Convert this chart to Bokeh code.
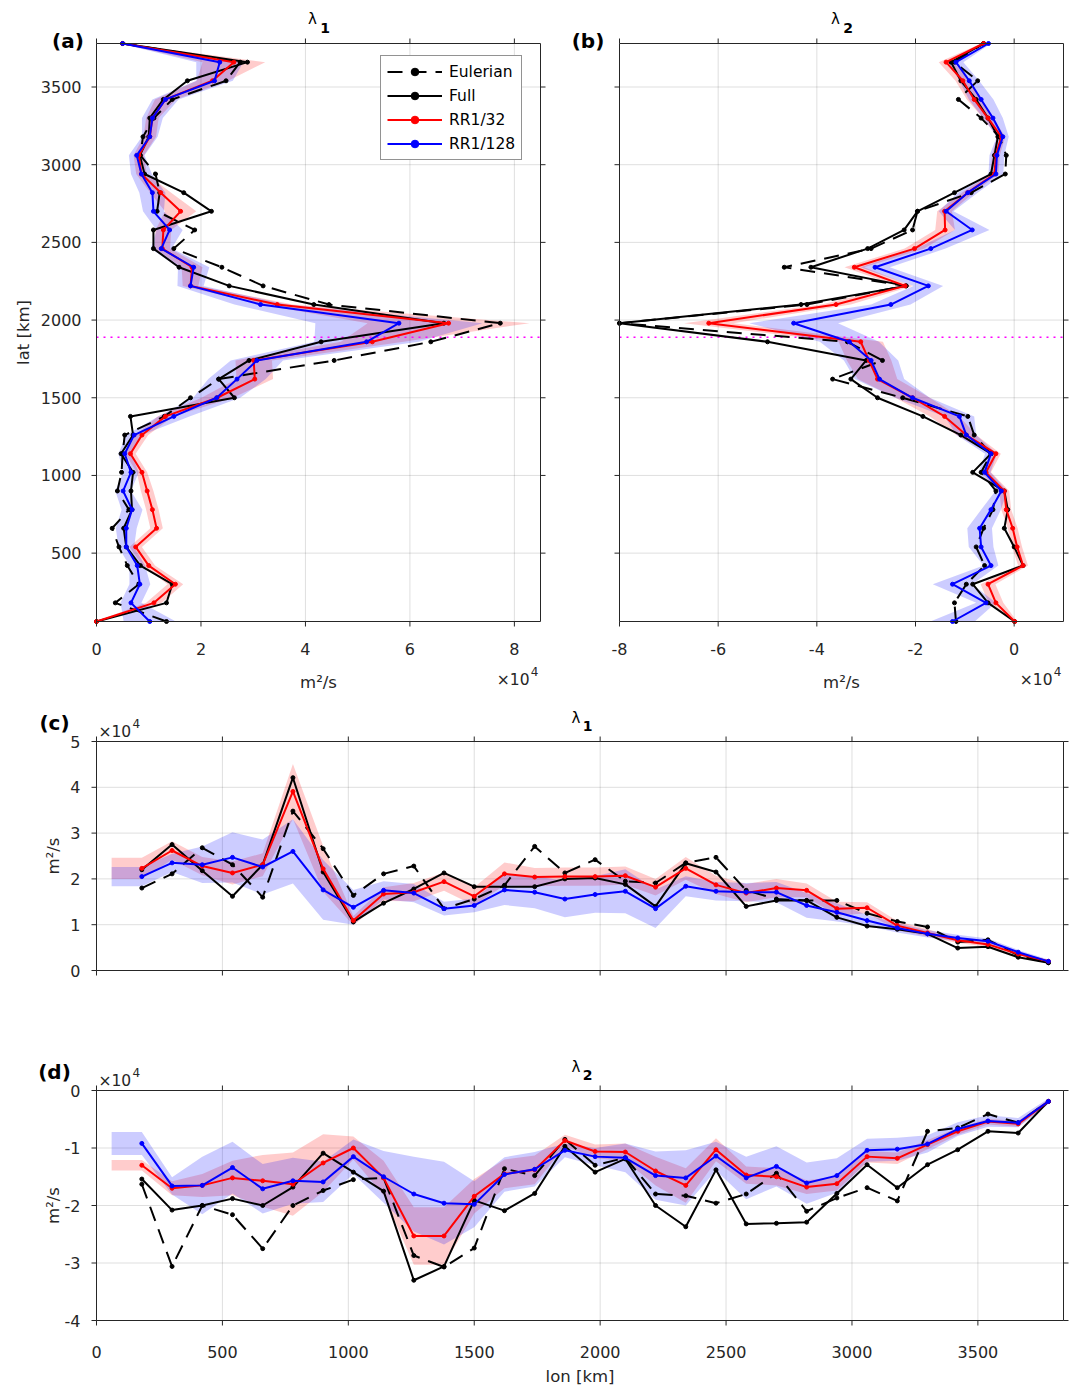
import math

from bokeh.plotting import figure
from bokeh.models import Range1d, Legend, LegendItem
from bokeh.core.properties import value
from bokeh.embed import file_html
from bokeh.resources import INLINE

FONT = "DejaVu Sans"
AX = "#262626"
RED = "#ff0000"
BLUE = "#0000ff"
BLACK = "#000000"
W, H = 1079, 1390
TEXT_LIFT = 6   # the text glyph sits a few pixels below the requested baseline

# ---------------------------------------------------------------- grids
lat_km = list(range(60, 3781, 120))    # meridional bins (32)
lon_km = list(range(180, 3781, 120))   # zonal bins (31)
band_lon_start = 60                    # shaded envelopes start at the domain edge
ref_lat = 1890                         # reference latitude (dotted line)

# ---------------------------------------------------------------- values, units of 1e4 m^2/s
# (a) lambda_1 against latitude, from lat 60 km upward
a_euler = [1.34, 0.36, 0.81, 0.59, 0.43, 0.30, 0.62, 0.40, 0.48, 0.50, 0.54, 1.30, 1.80, 2.34, 4.55, 6.40,
           7.73, 4.45, 3.19, 2.40, 1.48, 1.88, 1.16, 1.21, 1.13, 0.84, 0.89, 1.10, 1.45, 2.48, 2.75, 0.50]
a_full = [0.00, 1.34, 1.45, 0.84, 0.57, 0.52, 0.68, 0.66, 0.70, 0.47, 0.70, 0.65, 2.64, 2.34, 2.92, 4.30,
          6.65, 4.16, 2.54, 1.58, 1.09, 1.09, 2.20, 1.67, 0.92, 0.83, 1.00, 1.02, 1.28, 1.74, 2.89, 0.50]
a_rr32 = [0.00, 1.10, 1.51, 1.00, 0.75, 1.15, 1.07, 0.97, 0.87, 0.65, 0.87, 1.32, 2.31, 3.03, 3.01, 5.28,
          6.74, 3.46, 1.80, 1.83, 1.26, 1.28, 1.61, 1.23, 0.86, 0.81, 1.02, 1.07, 1.32, 2.22, 2.63, 0.50]
a_rr128 = [1.02, 0.66, 0.83, 0.78, 0.57, 0.57, 0.68, 0.51, 0.66, 0.54, 0.72, 1.48, 2.30, 2.69, 3.07, 5.17,
           5.79, 3.14, 1.80, 1.86, 1.24, 1.40, 1.09, 1.07, 0.86, 0.77, 1.02, 1.07, 1.32, 2.26, 2.36, 0.50]
a_rr32_spread = [0.02, 0.15, 0.15, 0.12, 0.12, 0.12, 0.12, 0.12, 0.10, 0.10, 0.12, 0.15, 0.30, 0.35, 0.35, 0.60,
                 1.55, 0.30, 0.15, 0.20, 0.15, 0.15, 0.30, 0.20, 0.10, 0.10, 0.12, 0.12, 0.20, 0.30, 0.60, 0.05]
a_rr128_spread = [0.50, 0.20, 0.20, 0.15, 0.15, 0.20, 0.20, 0.15, 0.15, 0.12, 0.15, 0.30, 0.45, 0.55, 0.50, 1.00,
                  1.60, 0.50, 0.25, 0.30, 0.20, 0.25, 0.20, 0.25, 0.20, 0.15, 0.15, 0.20, 0.25, 0.35, 0.45, 0.05]

# (b) lambda_2 against latitude
b_euler = [-1.18, -1.21, -0.97, -0.60, -0.77, -0.62, -0.43, -0.37, -0.67, -0.47, -0.81, -0.94, -2.26, -3.68, -2.67, -3.38,
           -8.00, -4.20, -2.19, -4.66, -2.90, -2.06, -1.96, -0.87, -0.18, -0.16, -0.30, -0.67, -1.13, -0.74, -1.21, -0.62]
b_full = [0.01, -0.53, -0.84, 0.18, 0.00, -0.20, -0.13, -0.20, -0.84, -0.47, -1.08, -1.85, -2.77, -3.31, -3.00, -5.00,
          -8.00, -4.32, -2.19, -4.12, -2.97, -2.23, -1.96, -1.21, -0.47, -0.40, -0.33, -0.53, -0.77, -1.08, -1.28, -0.62]
b_rr32 = [0.01, -0.37, -0.53, 0.18, 0.06, -0.03, -0.16, -0.20, -0.57, -0.37, -0.97, -1.41, -2.06, -2.77, -2.94, -3.11,
          -6.19, -3.61, -2.21, -3.24, -2.02, -1.40, -1.41, -0.94, -0.40, -0.37, -0.26, -0.53, -0.81, -1.04, -1.38, -0.62]
b_rr128 = [-1.25, -0.57, -1.25, -0.47, -0.67, -0.70, -0.47, -0.26, -0.60, -0.47, -0.97, -1.11, -2.06, -2.73, -2.90, -3.34,
           -4.47, -2.50, -1.74, -2.82, -1.69, -0.85, -1.38, -0.94, -0.37, -0.35, -0.23, -0.43, -0.67, -0.91, -1.18, -0.52]
b_rr32_spread = [0.05, 0.15, 0.15, 0.10, 0.10, 0.10, 0.10, 0.10, 0.10, 0.10, 0.20, 0.30, 0.35, 0.40, 0.45, 0.45,
                 0.50, 0.30, 0.15, 0.20, 0.20, 0.20, 0.15, 0.12, 0.08, 0.08, 0.08, 0.10, 0.15, 0.15, 0.15, 0.05]
b_rr128_spread = [0.45, 0.20, 0.40, 0.15, 0.25, 0.25, 0.20, 0.12, 0.12, 0.12, 0.20, 0.30, 0.35, 0.50, 0.55, 0.60,
                  0.90, 0.40, 0.30, 0.30, 0.30, 0.35, 0.15, 0.20, 0.15, 0.15, 0.12, 0.20, 0.25, 0.20, 0.15, 0.05]

# (c) lambda_1 against longitude
c_euler = [1.80, 2.11, 2.68, 2.31, 1.60, 3.48, 2.66, 1.64, 2.11, 2.28, 1.35, 1.56, 1.86, 2.71, 2.13, 2.42,
           1.95, 1.91, 2.35, 2.47, 1.75, 1.56, 1.53, 1.53, 1.25, 1.07, 0.95, 0.62, 0.67, 0.33, 0.17]
c_full = [2.20, 2.75, 2.18, 1.62, 2.31, 4.21, 2.15, 1.06, 1.47, 1.78, 2.13, 1.83, 1.83, 1.83, 2.00, 2.02,
          1.88, 1.40, 2.34, 2.15, 1.40, 1.53, 1.53, 1.16, 0.97, 0.90, 0.80, 0.49, 0.52, 0.29, 0.17]
c_rr32 = [2.23, 2.62, 2.28, 2.13, 2.31, 3.91, 2.22, 1.09, 1.67, 1.71, 1.94, 1.62, 2.11, 2.04, 2.05, 2.05,
          2.07, 1.82, 2.23, 1.87, 1.69, 1.80, 1.75, 1.35, 1.37, 0.98, 0.82, 0.66, 0.57, 0.36, 0.20]
c_rr128 = [2.05, 2.35, 2.31, 2.47, 2.26, 2.60, 1.76, 1.38, 1.75, 1.69, 1.35, 1.42, 1.76, 1.71, 1.56, 1.66,
           1.73, 1.35, 1.84, 1.73, 1.71, 1.71, 1.42, 1.27, 1.09, 0.93, 0.80, 0.71, 0.64, 0.40, 0.20]
c_rr32_spread = [0.23, 0.20, 0.20, 0.25, 0.25, 0.60, 0.50, 0.10, 0.15, 0.20, 0.20, 0.20, 0.25, 0.20, 0.20, 0.20,
                 0.20, 0.18, 0.25, 0.20, 0.20, 0.20, 0.15, 0.15, 0.12, 0.10, 0.08, 0.06, 0.05, 0.04, 0.03]
c_rr128_spread = [0.21, 0.20, 0.40, 0.55, 0.60, 0.70, 0.65, 0.38, 0.20, 0.20, 0.15, 0.15, 0.33, 0.35, 0.40, 0.40,
                  0.48, 0.42, 0.22, 0.20, 0.20, 0.22, 0.27, 0.20, 0.12, 0.10, 0.08, 0.07, 0.06, 0.05, 0.04]

# (d) lambda_2 against longitude
d_euler = [-1.63, -3.06, -2.00, -2.16, -2.75, -2.00, -1.74, -1.55, -1.52, -2.87, -3.07, -2.74, -1.36, -1.48, -0.85, -1.30,
           -1.17, -1.80, -1.83, -1.96, -1.80, -1.44, -2.10, -1.87, -1.69, -1.92, -0.71, -0.65, -0.41, -0.56, -0.19]
d_full = [-1.54, -2.08, -2.00, -1.88, -2.00, -1.68, -1.09, -1.42, -1.75, -3.30, -3.06, -1.91, -2.09, -1.79, -0.97, -1.42,
          -1.19, -2.00, -2.37, -1.38, -2.32, -2.31, -2.29, -1.79, -1.29, -1.69, -1.29, -1.03, -0.71, -0.74, -0.19]
d_rr32 = [-1.30, -1.70, -1.65, -1.52, -1.57, -1.63, -1.26, -1.00, -1.52, -2.53, -2.53, -1.84, -1.45, -1.38, -0.87, -1.06,
          -1.07, -1.40, -1.65, -1.03, -1.47, -1.50, -1.68, -1.62, -1.15, -1.18, -0.94, -0.71, -0.54, -0.58, -0.19]
d_rr128 = [-0.92, -1.66, -1.65, -1.34, -1.71, -1.57, -1.59, -1.15, -1.50, -1.80, -1.96, -1.98, -1.46, -1.37, -1.04, -1.15,
           -1.17, -1.48, -1.52, -1.14, -1.52, -1.32, -1.61, -1.48, -1.04, -1.02, -0.93, -0.67, -0.53, -0.56, -0.19]
d_rr32_spread = [0.09, 0.12, 0.20, 0.30, 0.45, 0.55, 0.50, 0.20, 0.30, 0.50, 0.50, 0.30, 0.25, 0.25, 0.10, 0.12,
                 0.15, 0.25, 0.30, 0.20, 0.15, 0.15, 0.12, 0.12, 0.10, 0.10, 0.08, 0.06, 0.05, 0.05, 0.03]
d_rr128_spread = [0.20, 0.15, 0.50, 0.45, 0.43, 0.40, 0.35, 0.30, 0.45, 0.65, 0.72, 0.40, 0.30, 0.30, 0.12, 0.15,
                  0.25, 0.42, 0.48, 0.25, 0.37, 0.35, 0.36, 0.30, 0.20, 0.20, 0.15, 0.12, 0.10, 0.08, 0.05]

# ---------------------------------------------------------------- ticks
a_xticks = [0, 2, 4, 6, 8]
b_xticks = [-8, -6, -4, -2, 0]
lat_ticks = [500, 1000, 1500, 2000, 2500, 3000, 3500]
lon_ticks = [0, 500, 1000, 1500, 2000, 2500, 3000, 3500]
c_yticks = [0, 1, 2, 3, 4, 5]
d_yticks = [-4, -3, -2, -1, 0]

series_names = ["Eulerian", "Full", "RR1/32", "RR1/128"]

# ---------------------------------------------------------------- one canvas, four sets of axes
p = figure(width=W, height=H, x_range=Range1d(0, W), y_range=Range1d(0, H),
           output_backend="svg", toolbar_location=None, title=None, min_border=0,
           x_axis_type=None, y_axis_type=None)
p.outline_line_color = None
p.background_fill_color = "white"
p.border_fill_color = "white"


class Axes:
    """A set of axes occupying a pixel box of the canvas, with its own data ranges."""

    def __init__(self, name, left, top, width, height, xlim, ylim):
        self.left, self.top, self.w, self.h = left, top, width, height
        self.x0, self.x1 = xlim
        self.y0, self.y1 = ylim
        self.dpx = (self.x1 - self.x0) / width
        self.dpy = (self.y1 - self.y0) / height
        p.extra_x_ranges[name + "_x"] = Range1d(self.x0 - left * self.dpx,
                                                self.x1 + (W - left - width) * self.dpx)
        p.extra_y_ranges[name + "_y"] = Range1d(self.y0 - (H - top - height) * self.dpy,
                                                self.y1 + top * self.dpy)
        self.kw = dict(x_range_name=name + "_x", y_range_name=name + "_y")

    # canvas pixel -> data
    def dx(self, px):
        return self.x0 + (px - self.left) * self.dpx

    def dy(self, py):
        return self.y1 - (py - self.top) * self.dpy

    def text(self, px, py, s, size, bold=False, align="center", angle=0.0, color=AX):
        if angle:
            px -= TEXT_LIFT
        else:
            py -= TEXT_LIFT
        p.text(x=[self.dx(px)], y=[self.dy(py)], text=[s], angle=angle,
               text_font=value(FONT), text_font_size=f"{size}px",
               text_font_style="bold" if bold else "normal", text_color=color,
               text_align=align, text_baseline="alphabetic", **self.kw)

    def grid(self, xticks, yticks):
        nx, ny = len(xticks), len(yticks)
        p.segment(x0=xticks, x1=xticks, y0=[self.y0] * nx, y1=[self.y1] * nx,
                  line_color=AX, line_alpha=0.15, line_width=1, **self.kw)
        p.segment(x0=[self.x0] * ny, x1=[self.x1] * ny, y0=yticks, y1=yticks,
                  line_color=AX, line_alpha=0.15, line_width=1, **self.kw)

    def box(self, xticks, yticks):
        p.quad(left=[self.x0], right=[self.x1], bottom=[self.y0], top=[self.y1],
               fill_color=None, line_color=AX, line_width=1, **self.kw)
        nx, ny = len(xticks), len(yticks)
        tick = dict(length=5, length_units="screen", line_color=AX, line_width=1, **self.kw)
        p.ray(x=xticks, y=[self.y0] * nx, angle=-math.pi / 2, **tick)
        p.ray(x=xticks, y=[self.y1] * nx, angle=math.pi / 2, **tick)
        p.ray(x=[self.x0] * ny, y=yticks, angle=math.pi, **tick)
        p.ray(x=[self.x1] * ny, y=yticks, angle=0.0, **tick)

    def xticklabels(self, ticks, baseline_py, size=16):
        y = self.dy(baseline_py - TEXT_LIFT)
        p.text(x=ticks, y=[y] * len(ticks), text=[str(t) for t in ticks],
               text_font=value(FONT), text_font_size=f"{size}px", text_color=AX,
               text_align="center", text_baseline="alphabetic", **self.kw)

    def yticklabels(self, ticks, right_px, size=16, drop=6):
        p.text(x=[self.dx(right_px)] * len(ticks),
               y=[t - (drop - TEXT_LIFT) * self.dpy for t in ticks],
               text=[str(t) for t in ticks], text_font=value(FONT), text_font_size=f"{size}px",
               text_color=AX, text_align="right", text_baseline="alphabetic", **self.kw)

    def multiplier(self, px, py, align):
        """'x10^4' note: the base and a raised, smaller exponent."""
        if align == "right":
            self.text(px - 9, py, "×10", 15.5, align="right")
            self.text(px, py - 8, "4", 12, align="right")
        else:
            self.text(px, py, "×10", 15.5, align="left")
            self.text(px + 34, py - 8, "4", 12, align="left")

    def hband(self, vals, spread, colour):
        lo = [v - s for v, s in zip(vals, spread)]
        hi = [v + s for v, s in zip(vals, spread)]
        p.harea(x1=lo, x2=hi, y=lat_km, fill_color=colour, fill_alpha=0.2, **self.kw)

    def vband(self, vals, spread, colour):
        lo = [v - s for v, s in zip(vals, spread)]
        hi = [v + s for v, s in zip(vals, spread)]
        p.varea(x=[band_lon_start] + lon_km, y1=[lo[0]] + lo, y2=[hi[0]] + hi,
                fill_color=colour, fill_alpha=0.2, **self.kw)

    def series(self, coord, groups, vertical):
        handles = []
        for vals, colour, dashed in groups:
            xs, ys = (vals, coord) if vertical else (coord, vals)
            ln = p.line(xs, ys, line_color=colour, line_width=2,
                        line_dash="15 9" if dashed else "solid", **self.kw)
            dots = p.scatter(xs, ys, size=4, color=colour, marker="circle", **self.kw)
            handles.append([ln, dots])
        return handles

    def ref_line(self, lat):
        p.segment(x0=[self.x0], x1=[self.x1], y0=[lat], y1=[lat], line_color="#ff00ff",
                  line_dash="2 5", line_width=1.5, **self.kw)


# ---------------------------------------------------------------- (a)
ax_a = Axes("a", 96, 43, 444, 578, (0, 8.5), (60, 3780))
ax_a.grid(a_xticks, lat_ticks)
ax_a.hband(a_rr32, a_rr32_spread, RED)
ax_a.hband(a_rr128, a_rr128_spread, BLUE)
ax_a.ref_line(ref_lat)
handles = ax_a.series(lat_km, [(a_euler, BLACK, True), (a_full, BLACK, False),
                               (a_rr32, RED, False), (a_rr128, BLUE, False)], True)
ax_a.box(a_xticks, lat_ticks)
ax_a.xticklabels(a_xticks, 654)
ax_a.yticklabels(lat_ticks, 81)
ax_a.text(318, 688, "m²/s", 16.5)
ax_a.text(29, 332, "lat [km]", 16.5, angle=math.pi / 2)
ax_a.multiplier(538, 685, "right")
ax_a.text(67.5, 46, "(a)", 20, bold=True, color=BLACK)
ax_a.text(312, 24, "λ", 15, color=BLACK)
ax_a.text(324.5, 33, "1", 14, bold=True, color=BLACK)

# ---------------------------------------------------------------- (b)
ax_b = Axes("b", 619, 43, 444, 578, (-8, 1), (60, 3780))
ax_b.grid(b_xticks, lat_ticks)
ax_b.hband(b_rr32, b_rr32_spread, RED)
ax_b.hband(b_rr128, b_rr128_spread, BLUE)
ax_b.ref_line(ref_lat)
ax_b.series(lat_km, [(b_euler, BLACK, True), (b_full, BLACK, False),
                     (b_rr32, RED, False), (b_rr128, BLUE, False)], True)
ax_b.box(b_xticks, lat_ticks)
ax_b.xticklabels(b_xticks, 654)
ax_b.text(841, 688, "m²/s", 16.5)
ax_b.multiplier(1061, 685, "right")
ax_b.text(587.5, 46, "(b)", 20, bold=True, color=BLACK)
ax_b.text(835, 24, "λ", 15, color=BLACK)
ax_b.text(847.5, 33, "2", 14, bold=True, color=BLACK)

# ---------------------------------------------------------------- (c)
ax_c = Axes("c", 96, 741, 967, 229, (0, 3840), (0, 5))
ax_c.grid(lon_ticks, c_yticks)
ax_c.vband(c_rr32, c_rr32_spread, RED)
ax_c.vband(c_rr128, c_rr128_spread, BLUE)
ax_c.series(lon_km, [(c_euler, BLACK, True), (c_full, BLACK, False),
                     (c_rr32, RED, False), (c_rr128, BLUE, False)], False)
ax_c.box(lon_ticks, c_yticks)
ax_c.yticklabels(c_yticks, 80)
ax_c.text(59, 855.5, "m²/s", 16.5, angle=math.pi / 2)
ax_c.multiplier(98, 737, "left")
ax_c.text(54, 728, "(c)", 20, bold=True, color=BLACK)
ax_c.text(575.5, 723, "λ", 15, color=BLACK)
ax_c.text(587, 731, "1", 14, bold=True, color=BLACK)

# ---------------------------------------------------------------- (d)
ax_d = Axes("d", 96, 1090, 967, 230, (0, 3840), (-4, 0))
ax_d.grid(lon_ticks, d_yticks)
ax_d.vband(d_rr32, d_rr32_spread, RED)
ax_d.vband(d_rr128, d_rr128_spread, BLUE)
ax_d.series(lon_km, [(d_euler, BLACK, True), (d_full, BLACK, False),
                     (d_rr32, RED, False), (d_rr128, BLUE, False)], False)
ax_d.box(lon_ticks, d_yticks)
ax_d.xticklabels(lon_ticks, 1357)
ax_d.yticklabels(d_yticks, 80)
ax_d.text(59, 1205, "m²/s", 16.5, angle=math.pi / 2)
ax_d.text(579.5, 1382, "lon [km]", 16.5)
ax_d.multiplier(98, 1086, "left")
ax_d.text(54, 1077, "(d)", 20, bold=True, color=BLACK)
ax_d.text(575.5, 1072, "λ", 15, color=BLACK)
ax_d.text(587, 1080, "2", 14, bold=True, color=BLACK)

# ---------------------------------------------------------------- legend of (a)
legend = Legend(items=[LegendItem(label=n, renderers=h) for n, h in zip(series_names, handles)],
                location=(380, H - 160))
legend.label_text_font = FONT
legend.label_text_font_size = "15.5px"
legend.label_text_color = BLACK
legend.glyph_width = 55
legend.glyph_height = 19
legend.label_height = 19
legend.label_standoff = 7
legend.spacing = 5
legend.padding = 6
legend.margin = 0
legend.border_line_color = AX
legend.border_line_width = 1
legend.background_fill_color = "white"
legend.background_fill_alpha = 1
p.add_layout(legend)

with open("out.html", "w") as f:
    f.write(file_html(p, INLINE))
